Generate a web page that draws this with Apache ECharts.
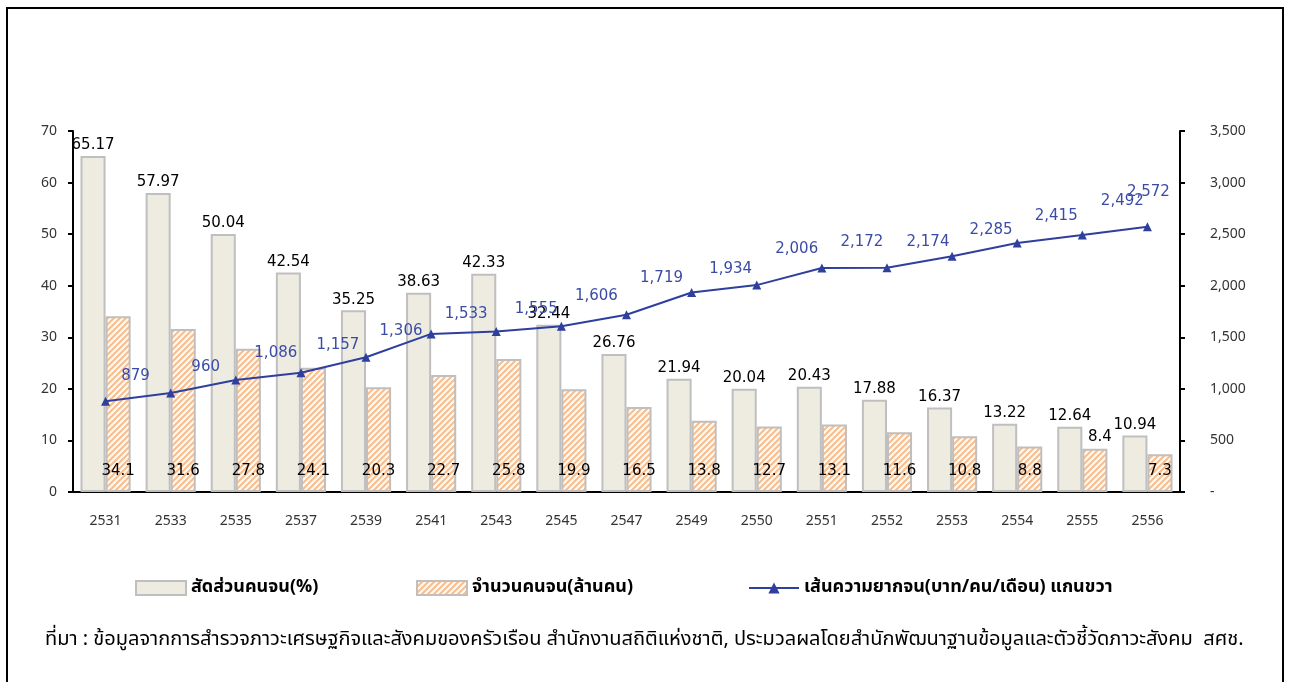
<!DOCTYPE html>
<html>
<head>
<meta charset="utf-8">
<script src="https://cdn.jsdelivr.net/npm/echarts@6/dist/echarts.min.js"></script>
<style>
  html, body { margin: 0; padding: 0; background: #fff; }
  #chartmain { width: 1290px; height: 682px; }
</style>
</head>
<body>
<div id="chartmain"></div>
<script>
// ปี พ.ศ.
var years = ['2531', '2533', '2535', '2537', '2539', '2541', '2543', '2545', '2547',
  '2549', '2550', '2551', '2552', '2553', '2554', '2555', '2556'];
// สัดส่วนคนจน (%)
var poorRatio = [65.17, 57.97, 50.04, 42.54, 35.25, 38.63, 42.33, 32.44, 26.76,
  21.94, 20.04, 20.43, 17.88, 16.37, 13.22, 12.64, 10.94];
// จำนวนคนจน (ล้านคน)
var poorCount = [34.1, 31.6, 27.8, 24.1, 20.3, 22.7, 25.8, 19.9, 16.5,
  13.8, 12.7, 13.1, 11.6, 10.8, 8.8, 8.4, 7.3];
// เส้นความยากจน (บาท/คน/เดือน)
var povertyLine = [879, 960, 1086, 1157, 1306, 1533, 1555, 1606, 1719,
  1934, 2006, 2172, 2174, 2285, 2415, 2492, 2572];

// label nudges for the line series (style only)
var lineLabelOffsets = [[30, -8], [35, -9], [40, -10], [37, -11], [35, -9], [35, -3],
  [40, -6], [35, -13], [35, -20], [39, -6], [40, -19], [40, -9], [41, -9], [39, -9],
  [39, -10], [40, -17], [1, -18]];

var names = ['สัดส่วนคนจน(%)', 'จำนวนคนจน(ล้านคน)', 'เส้นความยากจน(บาท/คน/เดือน) แกนขวา'];
var sourceText = 'ที่มา : ข้อมูลจากการสำรวจภาวะเศรษฐกิจและสังคมของครัวเรือน สำนักงานสถิติแห่งชาติ, ประมวลผลโดยสำนักพัฒนาฐานข้อมูลและตัวชี้วัดภาวะสังคม  สศช.';

window.onload = function () {
  // hatch pattern for จำนวนคนจน
  var cv = document.createElement('canvas');
  cv.width = 6; cv.height = 6;
  var ctx = cv.getContext('2d');
  ctx.fillStyle = '#fffaf5';
  ctx.fillRect(0, 0, 6, 6);
  ctx.strokeStyle = '#f9bd8c';
  ctx.lineWidth = 2;
  ctx.beginPath();
  ctx.moveTo(-1, 7); ctx.lineTo(7, -1);
  ctx.moveTo(-4, 4); ctx.lineTo(4, -4);
  ctx.moveTo(2, 10); ctx.lineTo(10, 2);
  ctx.stroke();
  var hatch = { image: cv, repeat: 'repeat' };

  var thai = '"Noto Sans Thai", "Noto Sans", "DejaVu Sans", sans-serif';
  var numFont = '"DejaVu Sans", Verdana, sans-serif';

  var lineData = povertyLine.map(function (v, i) {
    return { value: v, label: { offset: lineLabelOffsets[i] } };
  });
  var countData = poorCount.map(function (v, i) {
    if (i === 15) {
      return { value: v, label: { position: 'top', distance: 4, offset: [5, 0] } };
    }
    return v;
  });

  var legendBase = {
    itemWidth: 50,
    itemHeight: 14,
    itemGap: 8,
    textStyle: { fontFamily: thai, fontSize: 18, fontWeight: 'bold', color: '#000' },
    top: 574,
    selectedMode: false
  };

  var option = {
    backgroundColor: '#fff',
    animation: false,
    grid: { left: 73, right: 110, top: 131, bottom: 190 },
    legend: [
      Object.assign({}, legendBase, { left: 130, data: [{ name: names[0], icon: 'rect' }] }),
      Object.assign({}, legendBase, { left: 411, data: [{ name: names[1], icon: 'rect' }] }),
      Object.assign({}, legendBase, { left: 743, data: [names[2]] })
    ],
    xAxis: {
      type: 'category',
      data: years,
      axisLine: { lineStyle: { color: '#000', width: 2 } },
      axisTick: { length: 5, lineStyle: { color: '#000', width: 2 } },
      axisLabel: { color: '#333', fontFamily: '"Noto Sans", sans-serif', fontSize: 14, margin: 22 }
    },
    yAxis: [
      {
        type: 'value', min: 0, max: 70, interval: 10,
        splitLine: { show: false },
        axisLine: { show: true, lineStyle: { color: '#000', width: 2 } },
        axisTick: { show: true, length: 5, lineStyle: { color: '#000', width: 2 } },
        axisLabel: { color: '#333', fontFamily: '"Noto Sans", sans-serif', fontSize: 14, margin: 16 }
      },
      {
        type: 'value', min: 0, max: 3500, interval: 500,
        position: 'right',
        splitLine: { show: false },
        axisLine: { show: true, lineStyle: { color: '#000', width: 2 } },
        axisTick: { show: true, length: 5, lineStyle: { color: '#000', width: 2 } },
        axisLabel: {
          color: '#333', fontFamily: '"Noto Sans", sans-serif', fontSize: 14, margin: 30,
          formatter: function (v) { return v === 0 ? '-' : v.toLocaleString('en-US'); }
        }
      }
    ],
    series: [
      {
        name: names[0],
        type: 'bar',
        data: poorRatio,
        barGap: '0%',
        barCategoryGap: '23%',
        itemStyle: { color: '#eeece1', borderColor: '#bfbfbf', borderWidth: 2 },
        label: {
          show: true, position: 'top', distance: 3,
          color: '#000', fontFamily: numFont, fontSize: 15,
          formatter: function (p) { return p.value; }
        }
      },
      {
        name: names[1],
        type: 'bar',
        data: countData,
        itemStyle: { color: hatch, borderColor: '#bfbfbf', borderWidth: 2 },
        label: {
          show: true, position: 'insideBottom', distance: 13,
          color: '#000', fontFamily: numFont, fontSize: 15
        }
      },
      {
        name: names[2],
        type: 'line',
        yAxisIndex: 1,
        data: lineData,
        symbol: 'triangle',
        symbolSize: 9,
        z: 5,
        lineStyle: { color: '#2e3f9e', width: 2 },
        itemStyle: { color: '#2e3f9e' },
        label: {
          show: true, position: 'top', distance: 5,
          color: '#3b4ca6', fontFamily: numFont, fontSize: 15,
          formatter: function (p) { return p.value.toLocaleString('en-US'); }
        }
      }
    ],
    graphic: [
      {
        type: 'rect',
        shape: { x: 7, y: 8, width: 1276, height: 690 },
        style: { fill: null, stroke: '#000', lineWidth: 2 },
        silent: true
      },
      {
        type: 'text',
        left: 45,
        top: 631,
        style: { text: sourceText, fontFamily: thai, fontSize: 20, fill: '#000' }
      }
    ]
  };

  var myChart = echarts.init(document.getElementById('chartmain'));
  myChart.setOption(option);
};
</script>
</body>
</html>
